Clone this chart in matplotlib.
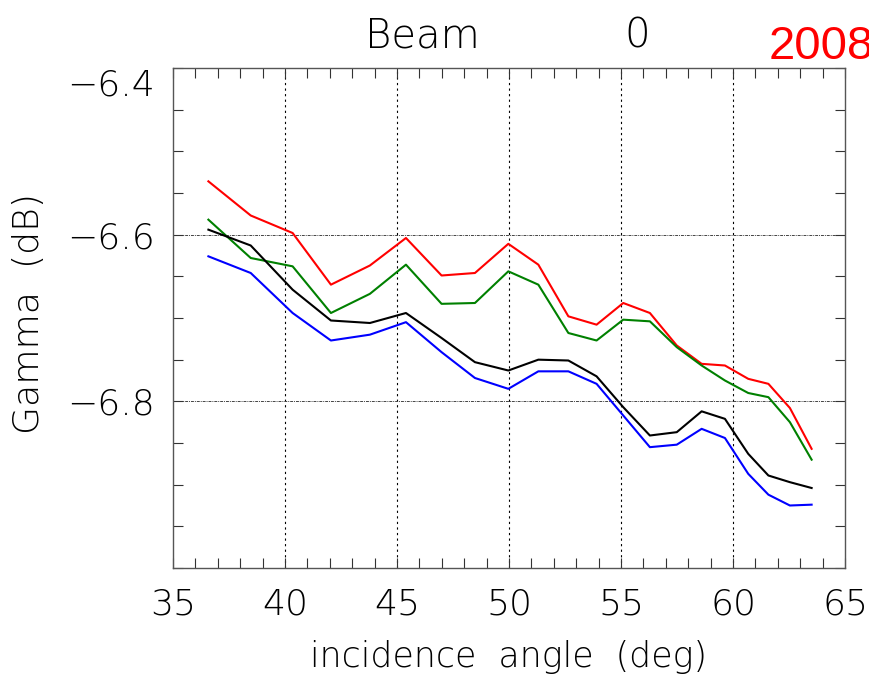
import matplotlib
matplotlib.use("Agg")
import matplotlib.pyplot as plt
from matplotlib.ticker import MultipleLocator, FixedLocator

plt.rcParams['font.family'] = ['DejaVu Sans']

angle = [36.58, 38.47, 40.34, 42.05, 43.79, 45.40, 46.99, 48.48, 49.97, 51.31,
         52.65, 53.91, 55.10, 56.29, 57.49, 58.60, 59.64, 60.68, 61.58, 62.54, 63.51]

red = [-6.536, -6.577, -6.598, -6.660, -6.637, -6.604, -6.649, -6.646, -6.611, -6.636,
       -6.698, -6.708, -6.682, -6.694, -6.733, -6.755, -6.757, -6.773, -6.779, -6.808, -6.857]
green = [-6.582, -6.628, -6.638, -6.694, -6.671, -6.636, -6.683, -6.682, -6.644, -6.660,
         -6.718, -6.727, -6.702, -6.704, -6.735, -6.757, -6.775, -6.790, -6.795, -6.825, -6.870]
black = [-6.594, -6.613, -6.666, -6.703, -6.706, -6.694, -6.724, -6.753, -6.763, -6.750,
         -6.751, -6.770, -6.807, -6.841, -6.837, -6.812, -6.821, -6.863, -6.889, -6.897, -6.904]
blue = [-6.626, -6.646, -6.694, -6.727, -6.720, -6.705, -6.741, -6.772, -6.785, -6.764,
        -6.764, -6.779, -6.817, -6.855, -6.852, -6.833, -6.844, -6.887, -6.912, -6.925, -6.924]

xticks = [35, 40, 45, 50, 55, 60, 65]
yticks = [-6.8, -6.6, -6.4]
ytick_labels = ['\u22126.8', '\u22126.6', '\u22126.4']

LIGHT = 'light'

fig = plt.figure(figsize=(8.69, 6.77), dpi=100)
ax = fig.add_axes([173/869, 1 - 568/677, (845-173)/869, (568-68)/677])

ax.plot(angle, red, color='#ff0000', lw=1.5)
ax.plot(angle, green, color='#008000', lw=1.5)
ax.plot(angle, black, color='black', lw=1.5)
ax.plot(angle, blue, color='#0000ff', lw=1.5)

ax.set_xlim(35, 65)
ax.set_ylim(-7.0, -6.4)

for gx in [40, 45, 50, 55, 60]:
    ax.axvline(gx, color='black', lw=0.8, ls=(0, (2, 3)), zorder=0)
for gy in [-6.6, -6.8]:
    ax.axhline(gy, color='#444444', lw=0.7, ls=(0, (3, 1, 1, 1)), zorder=0)

ax.set_xticks(xticks)
ax.set_xticklabels([str(t) for t in xticks])
ax.xaxis.set_minor_locator(MultipleLocator(1))
ax.yaxis.set_major_locator(FixedLocator(yticks))
ax.set_yticklabels(ytick_labels)
ax.yaxis.set_minor_locator(MultipleLocator(0.05))

ax.tick_params(which='both', direction='in', top=True, right=True, length=7,
               width=0.8, color='#333333')
ax.tick_params(axis='x', which='major', labelsize=26, pad=14, labelcolor='black')
ax.tick_params(axis='y', which='major', labelsize=26, pad=13, labelcolor='black')
for lab in ax.get_xticklabels() + ax.get_yticklabels():
    lab.set_fontweight(LIGHT)
ax.get_yticklabels()[-1].set_verticalalignment('top')
for s in ax.spines.values():
    s.set_color('#555555')
    s.set_linewidth(1.0)

ax.set_xlabel('incidence  angle  (deg)', fontsize=25, fontweight=LIGHT, labelpad=13)
ax.set_ylabel('Gamma  (dB)', fontsize=26, fontweight=LIGHT, va='center')
ax.yaxis.set_label_coords((29 - 173) / 672, (568 - 313) / 500)

fig.text(422/869, 1 - 47/677, 'Beam', fontsize=29, fontweight=LIGHT, ha='center', va='baseline')
fig.text(637/869, 1 - 47/677, '0', fontsize=29, fontweight=LIGHT, ha='center', va='baseline')
fig.text(769/869, 1 - 59/677, '2008', fontsize=34, color='#ff0000', ha='left', va='baseline',
         family=['Liberation Sans', 'DejaVu Sans'])

fig.savefig('out.png', dpi=100)
